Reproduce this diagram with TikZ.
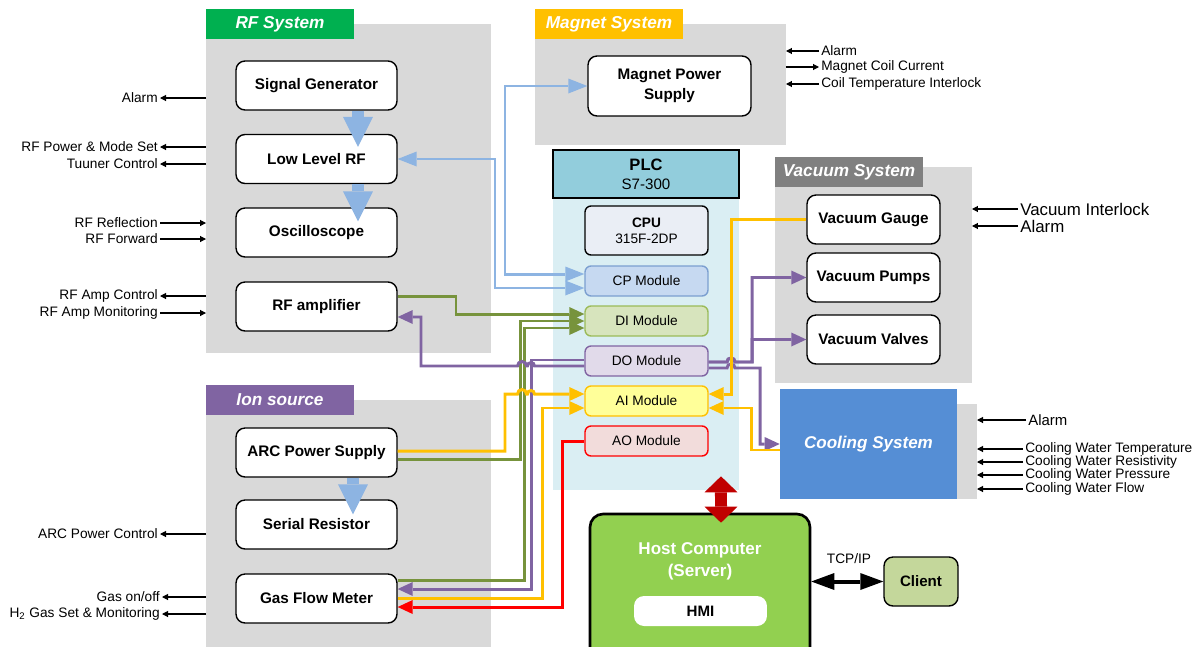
\documentclass[tikz,border=0pt]{standalone}
\usepackage{fontspec}
\setmainfont{Liberation Sans}
\usetikzlibrary{arrows.meta}

\definecolor{panelgray}{HTML}{D9D9D9}
\definecolor{rfgreen}{HTML}{00B050}
\definecolor{magorange}{HTML}{FFC000}
\definecolor{vacgray}{HTML}{808080}
\definecolor{ionpurple}{HTML}{8064A2}
\definecolor{coolblue}{HTML}{558ED5}
\definecolor{plchead}{HTML}{92CDDC}
\definecolor{plcfill}{HTML}{DAEEF3}
\definecolor{cpufill}{HTML}{EAEEF5}
\definecolor{cpfill}{HTML}{C6D9F1}
\definecolor{cpline}{HTML}{7C9FD0}
\definecolor{difill}{HTML}{D7E4BD}
\definecolor{diline}{HTML}{9BBB59}
\definecolor{dofill}{HTML}{E1DAEA}
\definecolor{doline}{HTML}{8064A2}
\definecolor{aifill}{HTML}{FFFF99}
\definecolor{ailine}{HTML}{FFC000}
\definecolor{aofill}{HTML}{F2DCDB}
\definecolor{aoline}{HTML}{FF0000}
\definecolor{wireblue}{HTML}{8DB4E2}
\definecolor{wiregreen}{HTML}{77933C}
\definecolor{wirepurple}{HTML}{8064A2}
\definecolor{wireyellow}{HTML}{FFC000}
\definecolor{wirered}{HTML}{FF0000}
\definecolor{hostgreen}{HTML}{92D050}
\definecolor{clientgreen}{HTML}{C4D79B}
\definecolor{linkred}{HTML}{C00000}

\tikzset{
  panel/.style={fill=panelgray, inner sep=0, outer sep=0},
  tag/.style={text=white, font=\fontsize{9.8}{11}\selectfont\bfseries\itshape, minimum width=2.96cm, minimum height=0.6cm, inner sep=0},
  unit/.style={draw, fill=white, line width=0.8pt, rounded corners=0.18cm, minimum width=3.22cm, minimum height=0.98cm, inner sep=0, align=center, font=\fontsize{8.7}{11.3}\selectfont\bfseries},
  module/.style={line width=0.8pt, rounded corners=0.12cm, minimum width=2.46cm, minimum height=0.6cm, inner sep=0, align=center, font=\fontsize{7.8}{9}\selectfont},
  sigtext/.style={inner sep=1.1pt, font=\fontsize{7.8}{9}\selectfont},
  sig/.style={line width=0.6pt, -{Triangle[length=1.2mm,width=1.2mm]}},
  wire/.style={line width=1.7pt, -{Triangle[length=0.3cm,width=0.28cm,line width=0pt]}},
  bluewire/.style={line width=1.7pt, wireblue, <->, >={Triangle[length=0.38cm,width=0.3cm,line width=0pt]}},
  fatarrow/.style={line width=0.24cm, wireblue, -{Triangle[length=0.6cm,width=0.6cm,line width=0pt]}}
}

\begin{document}
\begin{tikzpicture}[x=0.02cm, y=-0.02cm]
\clip (0,0) rectangle (1200,646);

% panels
\node[panel, minimum width=5.7cm, minimum height=6.58cm] (rfpanel) at (348.5,188.5) {};
\node[tag, fill=rfgreen] (rftag) at (280,24) {RF System};
\node[panel, minimum width=5.02cm, minimum height=2.42cm] (magpanel) at (660.5,84.5) {};
\node[tag, fill=magorange] (magtag) at (609,24) {Magnet System};
\node[panel, minimum width=3.94cm, minimum height=4.32cm] (vacpanel) at (873.5,275) {};
\node[tag, fill=vacgray] (vactag) at (849,172) {Vacuum System};
\node[panel, minimum width=5.7cm, minimum height=5.2cm] (ionpanel) at (348.5,530) {};
\node[tag, fill=ionpurple] (iontag) at (280,400) {Ion source};
\node[panel, minimum width=0.4cm, minimum height=1.9cm] (coolstrip) at (967,451.5) {};
\node[fill=plcfill, inner sep=0, minimum width=3.72cm, minimum height=5.84cm] (plcbody) at (646,344) {};

% units
\node[unit] (siggen) at (316.5,85.5) {Signal Generator};
\node[unit] (llrf) at (316.5,159) {Low Level RF};
\node[unit] (osc) at (316.5,232.5) {Oscilloscope};
\node[unit] (rfamp) at (316.5,306.5) {RF amplifier};
\node[unit] (arcps) at (316.5,452.5) {ARC Power Supply};
\node[unit] (serres) at (316.5,524.5) {Serial Resistor};
\node[unit] (gasflow) at (316.5,598.5) {Gas Flow Meter};
\node[unit, minimum width=3.26cm, minimum height=1.2cm] (magps) at (669.5,86) {Magnet Power\\Supply};
\node[unit, minimum width=2.66cm] (gauge) at (873.5,219.5) {Vacuum Gauge};
\node[unit, minimum width=2.66cm] (pumps) at (873.5,277.5) {Vacuum Pumps};
\node[unit, minimum width=2.66cm] (valves) at (873.5,339.5) {Vacuum Valves};
\node[fill=coolblue, inner sep=0, minimum width=3.54cm, minimum height=2.2cm, text=white, font=\fontsize{9.7}{11}\selectfont\bfseries\itshape] (cooling) at (868.5,444) {Cooling System};

% PLC
\node[draw, fill=plchead, line width=0.8pt, minimum width=3.72cm, minimum height=0.96cm, inner sep=0, align=center, font=\fontsize{8.6}{10.8}\selectfont] (plc) at (646,174) {{\fontsize{9.4}{10.8}\selectfont\bfseries PLC}\\S7-300};
\node[module, draw=black, fill=cpufill, minimum height=0.98cm] (cpu) at (646.5,230.5) {\textbf{CPU}\\315F-2DP};
\node[module, draw=cpline, fill=cpfill] (cpmod) at (646.5,281) {CP Module};
\node[module, draw=diline, fill=difill] (dimod) at (646.5,321) {DI Module};
\node[module, draw=doline, fill=dofill] (domod) at (646.5,361) {DO Module};
\node[module, draw=ailine, fill=aifill] (aimod) at (646.5,401) {AI Module};
\node[module, draw=aoline, fill=aofill] (aomod) at (646.5,441) {AO Module};

% host and client
\node[draw, fill=hostgreen, line width=1.5pt, rounded corners=0.26cm, minimum width=4.4cm, minimum height=2.92cm] (host) at (700,587) {};
\node[text=white, align=center, font=\fontsize{9.7}{12.5}\selectfont\bfseries] (hosttitle) at (700,561) {Host Computer\\(Server)};
\node[fill=white, rounded corners=0.2cm, minimum width=2.66cm, minimum height=0.6cm, inner sep=0, font=\fontsize{8.6}{10}\selectfont\bfseries] (hmi) at (700.5,611) {HMI};
\node[draw, fill=clientgreen, line width=0.8pt, rounded corners=0.18cm, minimum width=1.48cm, minimum height=0.98cm, inner sep=0, font=\fontsize{8.6}{10}\selectfont\bfseries] (client) at (921,581.5) {Client};
\node[sigtext] (tcp) at (849,559) {TCP/IP};

% signals, RF system
\node[sigtext, anchor=east] (rfalarm) at (160,98) {Alarm};
\node[sigtext, anchor=east] (rfpower) at (160,147) {RF Power \& Mode Set};
\node[sigtext, anchor=east] (rftuner) at (160,164) {Tuuner Control};
\node[sigtext, anchor=east] (rfrefl) at (160,223) {RF Reflection};
\node[sigtext, anchor=east] (rffwd) at (160,239) {RF Forward};
\node[sigtext, anchor=east] (ampctrl) at (160,296) {RF Amp Control};
\node[sigtext, anchor=east] (ampmon) at (160,313) {RF Amp Monitoring};
\draw[sig] (rfpanel.west |- rfalarm) -- (rfalarm.east);
\draw[sig] (rfpanel.west |- rfpower) -- (rfpower.east);
\draw[sig] (rfpanel.west |- rftuner) -- (rftuner.east);
\draw[sig] (rfrefl.east) -- (rfpanel.west |- rfrefl);
\draw[sig] (rffwd.east) -- (rfpanel.west |- rffwd);
\draw[sig] (rfpanel.west |- ampctrl) -- (ampctrl.east);
\draw[sig] (ampmon.east) -- (rfpanel.west |- ampmon);

% signals, ion source
\node[sigtext, anchor=east] (arcctrl) at (160,534) {ARC Power Control};
\node[sigtext, anchor=east] (gasonoff) at (162,597) {Gas on/off};
\node[sigtext, anchor=east] (h2gas) at (162,614) {H\textsubscript{2} Gas Set \& Monitoring};
\draw[sig] (ionpanel.west |- arcctrl) -- (arcctrl.east);
\draw[sig] (ionpanel.west |- gasonoff) -- (gasonoff.east);
\draw[sig] (ionpanel.west |- h2gas) -- (h2gas.east);

% signals, magnet
\node[sigtext, anchor=west] (magalarm) at (819,51) {Alarm};
\node[sigtext, anchor=west] (magcurrent) at (819,67) {Magnet Coil Current};
\node[sigtext, anchor=west] (coiltemp) at (819,84) {Coil Temperature Interlock};
\draw[sig] (magalarm.west) -- (magpanel.east |- magalarm);
\draw[sig] (magpanel.east |- magcurrent) -- (magcurrent.west);
\draw[sig] (coiltemp.west) -- (magpanel.east |- coiltemp);

% signals, vacuum
\node[sigtext, anchor=west, font=\fontsize{9.6}{11}\selectfont] (vacilk) at (1018,209) {Vacuum Interlock};
\node[sigtext, anchor=west, font=\fontsize{9.6}{11}\selectfont] (vacalarm) at (1018,226) {Alarm};
\draw[sig] (vacilk.west) -- (vacpanel.east |- vacilk);
\draw[sig] (vacalarm.west) -- (vacpanel.east |- vacalarm);

% signals, cooling
\node[sigtext, anchor=west, font=\fontsize{8.5}{10}\selectfont] (coolalarm) at (1026,420) {Alarm};
\node[sigtext, anchor=west] (cooltemp) at (1023,449) {Cooling Water Temperature};
\node[sigtext, anchor=west] (coolres) at (1023,462) {Cooling Water Resistivity};
\node[sigtext, anchor=west] (coolpres) at (1023,475) {Cooling Water Pressure};
\node[sigtext, anchor=west] (coolflow) at (1023,489) {Cooling Water Flow};
\draw[sig] (coolalarm.west) -- (coolstrip.east |- coolalarm);
\draw[sig] (cooltemp.west) -- (coolstrip.east |- cooltemp);
\draw[sig] (coolres.west) -- (coolstrip.east |- coolres);
\draw[sig] (coolpres.west) -- (coolstrip.east |- coolpres);
\draw[sig] (coolflow.west) -- (coolstrip.east |- coolflow);

% fat arrows
\draw[fatarrow] ([xshift=0.83cm]siggen.south) -- ([xshift=0.83cm,yshift=-0.26cm]llrf.north);
\draw[fatarrow] ([xshift=0.83cm]llrf.south) -- ([xshift=0.83cm,yshift=-0.28cm]osc.north);
\draw[fatarrow] ([xshift=0.73cm]arcps.south) -- ([xshift=0.73cm,yshift=-0.3cm]serres.north);

% blue wires
\draw[bluewire] (llrf.east) -| (495,220) |- ([yshift=-0.14cm]cpmod.west);
\draw[bluewire] (magps.west) -| (505,180) |- ([yshift=0.14cm]cpmod.west);

% green wires
\draw[wire, wiregreen] ([yshift=0.21cm]rfamp.east) -| (456,305) |- ([yshift=0.14cm]dimod.west);
\draw[wire, wiregreen] ([yshift=-0.13cm]arcps.east) -| (520,400) |- (dimod.west);
\draw[wire, wiregreen] ([yshift=0.37cm]gasflow.east) -| (524,450) |- ([yshift=-0.14cm]dimod.west);

% purple wires
\draw[wire, wirepurple] ([yshift=-0.1cm]domod.west) -- (534.5,366) arc[start angle=0, end angle=180, radius=0.07cm] -- (526.5,366) arc[start angle=0, end angle=180, radius=0.09cm] -- (421,366) |- ([yshift=-0.21cm]rfamp.east);
\draw[wire, wirepurple] ([yshift=0.02cm]domod.west) -| (531,500) |- ([yshift=0.19cm]gasflow.east);
\draw[wire, wirepurple] ([yshift=-0.02cm]domod.east) -- (727,362) arc[start angle=180, end angle=0, radius=0.08cm] -- (752,362) |- (pumps.west);
\draw[wire, wirepurple] ([yshift=-0.02cm]domod.east) -- (727,362) arc[start angle=180, end angle=0, radius=0.08cm] -- (752,362) |- (valves.west);
\draw[wire, wirepurple] ([yshift=-0.14cm]domod.east) -- (727,368) arc[start angle=180, end angle=0, radius=0.08cm] -- (735,368) -| (760,400) |- (cooling.west);

% yellow wires
\draw[wire, wireyellow] (gauge.west) -| (731,300) |- ([yshift=0.14cm]aimod.east);
\draw[wire, wireyellow] ([yshift=-0.12cm]cooling.west) -| (751,430) |- ([yshift=-0.14cm]aimod.east);
\draw[wire, wireyellow] ([yshift=0.03cm]arcps.east) -| (505,420) |- (517.5,394) arc[start angle=180, end angle=0, radius=0.09cm] -- (527.5,394) arc[start angle=180, end angle=0, radius=0.07cm] -- ([yshift=0.14cm]aimod.west);
\draw[wire, wireyellow] (gasflow.east) -| (542,500) |- ([yshift=-0.14cm]aimod.west);

% red wire
\draw[wire, wirered] (aomod.west) -| (562,500) |- ([yshift=-0.17cm]gasflow.east);

% PLC to host, host to client
\draw[line width=0.24cm, linkred, {Triangle[length=0.32cm,width=0.66cm,line width=0pt]}-{Triangle[length=0.32cm,width=0.66cm,line width=0pt]}] ([xshift=1.5cm,yshift=0.28cm]plcbody.south) -- ([xshift=0.42cm,yshift=-0.2cm]host.north);
\draw[line width=0.08cm, {Triangle[length=0.46cm,width=0.34cm,line width=0pt]}-{Triangle[length=0.46cm,width=0.34cm,line width=0pt]}] (host.east |- client.west) -- (client.west);
\end{tikzpicture}
\end{document}
